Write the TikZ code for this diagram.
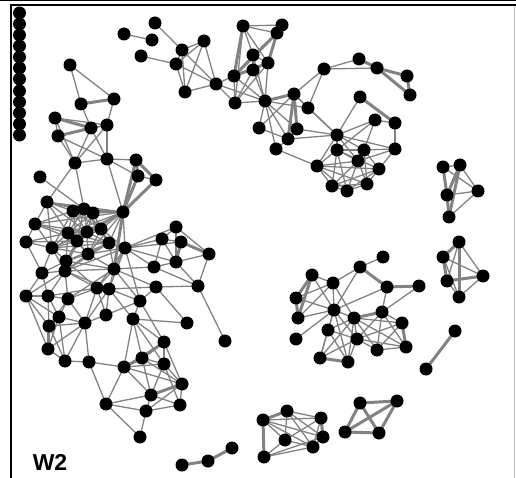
\documentclass[tikz,border=0pt]{standalone}
\usepackage{fontspec}
\setmainfont{Liberation Sans}
\usetikzlibrary{backgrounds}
\definecolor{edgegray}{RGB}{130,130,130}
\tikzset{
  nd/.style={circle,fill=black,inner sep=0pt,minimum size=13pt},
  ed/.style={draw=edgegray,line width=1.3pt},
  edt/.style={draw=edgegray,line width=3pt},
  lbl/.style={font=\bfseries\fontsize{23}{25}\selectfont,inner sep=0pt}
}
\begin{document}
\begin{tikzpicture}[x=1pt,y=-1pt]
\useasboundingbox (0,0) rectangle (516,478);
% frame
\draw[line width=1pt] (0,0.5) -- (516,0.5);
\draw[line width=2.3pt] (10,5.2) -- (516,5.2);
\draw[line width=2.3pt] (11.2,4) -- (11.2,478);
\draw[black!25,line width=1pt] (514.5,6) -- (514.5,478);
% nodes
\foreach \n/\x/\y in {
 c1/19.5/13, c2/19.5/24, c3/19.5/35, c4/19.5/46, c5/19.5/57, c6/19.5/68,
 c7/19.5/79, c8/19.5/91, c9/19.5/102, c10/19.5/113, c11/19.5/124, c12/19.5/135,
 a1/70/65, a2/81/104, a3/114/99, a4/55/118, a5/91/128, a6/107/125, a7/58/136,
 a8/75/163, a9/107/159, a10/136/160, a11/138/176, a12/156/180, a13/40/177,
 t1/124/34, t2/155/23, t3/152/40, t4/141/56, t5/182/50, t6/204/41, t7/176/64,
 t8/185/92, t9/216/84, t10/243/26, t11/282/25, t12/277/33, t13/253/55, t14/268/63,
 t15/253/70, t16/234/76, t17/235/103, t18/265/101, t19/259/128,
 r1/324/69, r2/359/59, r3/377/68, r4/407/76, r5/410/95, r6/294/94, r7/308/108,
 r8/297/129, r9/288/139, r10/276/149, r11/360/97, r12/375/120, r13/395/123,
 r14/337/135, r15/337/150, r16/364/150, r17/395/149, r18/358/161, r19/317/166,
 r20/379/169, r21/332/186, r22/347/191, r23/367/184,
 s1/443/167, s2/460/165, s3/447/195, s4/478/191, s5/449/217,
 u1/459/242, u2/443/257, u3/483/276, u4/447/281, u5/459/297,
 m1/383/257, m2/360/267, m3/312/275, m4/333/283, m5/296/298, m6/387/287,
 m7/419/286, m8/334/310, m9/298/318, m10/354/318, m11/382/312, m12/402/323,
 m13/328/330, m14/296/339, m15/357/339, m16/377/350, m17/406/347, m18/320/358, m19/348/362,
 p1/455/331, p2/426/369,
 b1/263/420, b2/287/411, b3/321/418, b4/323/437, b5/285/440, b6/313/447, b7/264/457,
 q1/360/403, q2/397/401, q3/345/432, q4/379/433,
 h1/182/465, h2/208/461, h3/232/448,
 d1/47/202, d2/73/211, d3/84/209, d4/93/213, d5/123/212, d6/35/224, d7/68/233,
 d8/87/232, d9/101/229, d10/77/241, d11/26/242, d12/52/248, d13/109/243,
 d14/125/248, d15/88/254, d16/66/261, d17/65/271, d18/114/269, d19/42/273,
 d20/97/288, d21/109/289, d22/26/296, d23/48/296, d24/68/299, d25/140/301,
 e1/176/227, e2/162/239, e3/181/242, e4/209/254, e5/176/262, e6/154/267,
 e7/156/287, e8/198/286, e9/187/323, e10/225/341,
 l1/59/317, l2/49/326, l3/85/323, l4/106/315, l5/133/319, l6/48/349, l7/65/361,
 l8/89/362, l9/124/367, l10/164/342, l11/142/358, l12/164/364, l13/182/384,
 l14/151/395, l15/106/404, l16/146/411, l17/180/405, l18/140/437}
 \node[nd] (\n) at (\x,\y) {};
\begin{scope}[on background layer]
% thin edges
\foreach \a/\b in {
 a1/a2, a1/a3, a2/a5, a3/a6, a4/a6, a4/a7, a5/a6, a7/a6, a7/a8, a7/a9, a5/a8, a5/a9,
 a6/a8, a6/a9, a4/a8, a8/a9, a9/a10, a9/a11, a11/a12, a9/d5, a8/d1, a8/d3, a13/d3,
 t1/t3, t2/t5, t4/t7, t7/t9, t5/t6, t5/t7, t5/t8, t5/t9, t6/t7, t6/t8, t6/t9, t7/t8,
 t8/t9, t9/t16, t9/t17, t9/t18, t10/t11, t10/t12, t10/t13, t10/t14, t10/t17, t12/t13,
 t13/t16, t13/t15, t13/t14, t13/t18, t14/t15, t14/t17, t15/t16, t15/t17, t15/t18,
 t16/t17, t16/t18, t17/t18, t14/t18, t18/t19, t18/r8, t18/r9, t18/r10, t19/r6, t19/r9, t18/r7,
 r6/r1, r1/r2, r1/r3, r1/r7, r6/r7, r6/r14, r7/r14, r8/r9, r9/r10, r10/r19,
 r8/r14, r9/r14, r11/r14, r12/r14, r12/r15, r12/r16, r12/r13, r13/r17, r14/r15, r14/r16,
 r14/r17, r14/r18, r14/r19, r15/r16, r15/r18, r15/r19, r15/r21, r15/r22, r15/r20,
 r16/r17, r16/r18, r16/r20, r16/r23, r17/r20, r17/r18, r18/r19, r18/r21, r18/r22,
 r18/r23, r19/r20, r19/r21, r19/r22, r19/r23, r20/r22, r20/r23, r21/r22, r22/r23, r21/r23, r20/r21,
 s1/s2, s2/s4, s3/s4, s4/s5, s1/s4,
 u1/u3, u1/u4, u2/u3, u2/u5, u3/u5, u4/u5,
 m1/m2, m2/m4, m2/m8, m7/m11, m6/m11, m6/m8, m3/m4, m3/m8, m4/m5, m4/m8, m4/m9,
 m4/m10, m5/m8, m8/m9, m8/m10, m8/m13, m8/m15, m8/m18, m8/m19, m14/m8, m10/m13,
 m10/m15, m10/m16, m10/m17, m10/m12, m10/m18, m10/m19, m11/m12, m11/m15, m11/m16,
 m11/m17, m12/m16, m12/m15, m13/m18, m13/m19, m13/m15, m15/m16, m15/m18, m15/m19,
 m15/m17, m16/m17,
 b1/b3, b1/b4, b1/b5, b1/b6, b2/b3, b2/b4, b2/b5, b2/b6, b3/b5, b3/b6, b4/b6, b4/b7,
 b5/b6, b5/b7, b6/b7,
 d5/d2, d5/d3, d5/d4, d5/d7, d5/d8, d5/d9, d5/d10, d5/d13, d5/d14, d5/d12, d5/d6,
 d5/d15, d5/d1, d1/d2, d1/d3, d1/d4, d1/d6, d1/d7, d1/d8, d1/d12, d2/d3, d2/d4,
 d2/d7, d2/d8, d2/d9, d2/d10, d2/d12, d2/d6, d3/d4, d3/d7, d3/d8, d3/d9, d3/d10,
 d3/d13, d4/d8, d4/d9, d4/d13, d4/d7, d4/d10, d6/d7, d6/d8, d6/d10, d6/d11, d6/d12,
 d7/d8, d7/d9, d7/d10, d7/d12, d7/d13, d7/d15, d7/d16, d8/d9, d8/d10, d8/d13,
 d8/d15, d8/d12, d8/d16, d9/d10, d9/d13, d9/d15, d9/d14, d10/d12, d10/d13, d10/d15,
 d10/d16, d10/d17, d11/d12, d11/d19, d11/d10, d11/d7, d12/d15, d12/d16, d12/d17,
 d12/d19, d12/d13, d13/d14, d13/d15, d13/d18, d13/d16, d13/d17, d14/d15, d14/d18,
 d14/d17, d14/d20, d14/d21, d14/e1, d14/e2, d14/e3, d14/e5, d14/e6, d14/d25,
 d15/d16, d15/d17, d15/d18, d16/d17, d16/d19, d16/d18, d16/d20, d17/d19, d17/d18,
 d17/d20, d17/d21, d17/d22, d17/d23, d17/d24, d18/d20, d18/d21, d18/d25, d18/e6,
 d18/e7, d18/d24, d19/d22, d19/d23, d20/d21, d20/d24, d20/l3, d20/l4, d20/d23,
 d21/l4, d21/l5, d21/d25, d21/l3, d21/e7, d22/d23, d22/l1, d22/l2, d22/l6, d23/d24,
 d23/l1, d23/l2, d24/l1, d24/l3, d24/l2, d25/e7, d25/l5, d25/l10, d25/l4,
 e1/e2, e1/e4, e1/e5, e2/e3, e2/e5, e2/e6, e4/e5, e4/e8, e5/e6, e5/e8, e6/e8,
 e7/e8, e7/e9, e8/e10,
 l1/l2, l1/l3, l1/l6, l1/l7, l2/l3, l2/l7, l3/l6, l3/l7, l3/l8, l3/l4, l5/l9, l5/l11,
 l5/l12, l5/e9, l5/l10, l6/l7, l7/l8, l8/l9, l8/l15, l9/l10, l9/l12, l9/l13, l9/l14,
 l9/l15, l10/l12, l10/l13, l11/l12, l11/l13, l11/l14, l12/l13, l12/l14, l12/l17,
 l13/l17, l13/l16, l14/l15, l14/l16, l14/l17, l15/l16, l15/l18, l16/l17, l16/l18}
 \draw[ed] (\a.center) -- (\b.center);
% thick edges
\foreach \a/\b in {
 a2/a3, a4/a5, a7/a5, a10/a11, a10/a12, a11/d5, a12/d5, a10/d5,
 t10/t16, t12/t11, t12/t14, t12/t16, t14/t16, t18/r6,
 r2/r3, r3/r4, r3/r5, r4/r5, r11/r13, r6/r8, r6/r9,
 s1/s3, s2/s3, s2/s5, s3/s5,
 u1/u2, u1/u5, u2/u4, u3/u4,
 m2/m6, m6/m7, m3/m5, m3/m9, m5/m9, m10/m11, m12/m17, m18/m19,
 b1/b2, b1/b7, b3/b4,
 q1/q2, q1/q3, q1/q4, q2/q3, q2/q4, q3/q4,
 h1/h2, h2/h3, p1/p2,
 d5/d18, e3/e5, e3/e4, l2/l6, l9/l11, l10/l11, l13/l14}
 \draw[edt] (\a.center) -- (\b.center);
\end{scope}
\node[lbl] (w2) at (50,462) {W2};
\end{tikzpicture}
\end{document}
